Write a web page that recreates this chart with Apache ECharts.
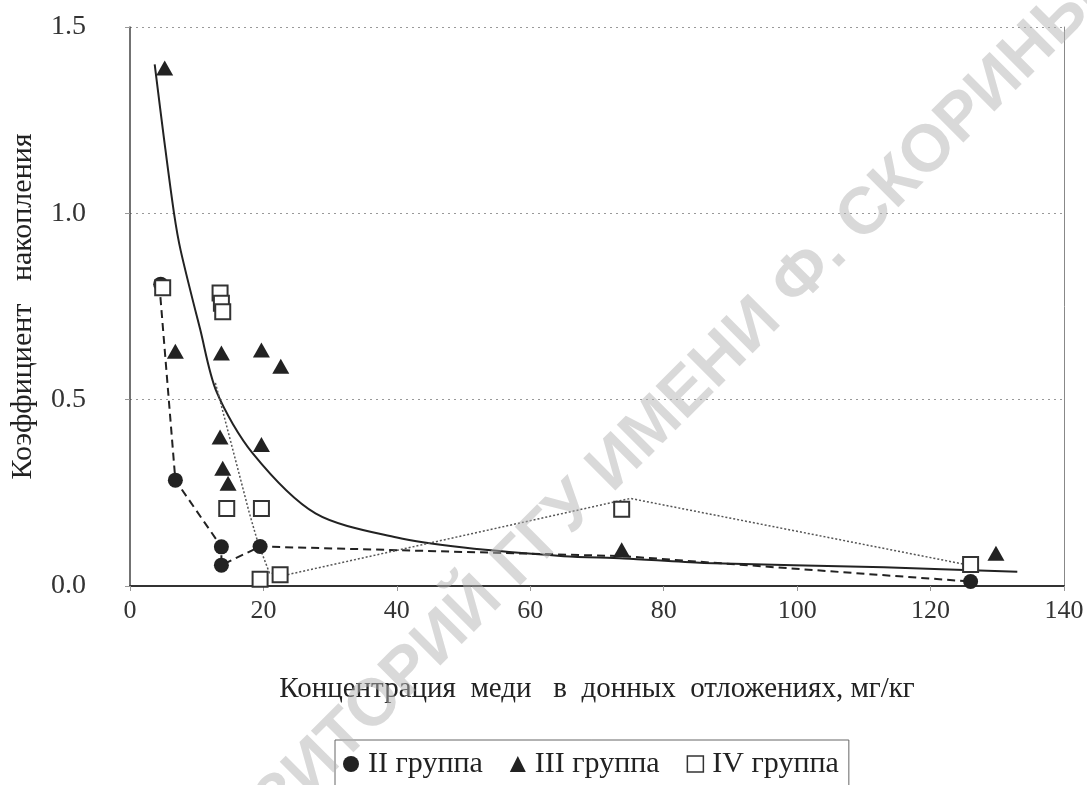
<!DOCTYPE html>
<html>
<head>
<meta charset="utf-8">
<script src="https://cdn.jsdelivr.net/npm/echarts@6/dist/echarts.min.js"></script>
<style>
html,body{margin:0;padding:0;background:#fff;}
#chart{width:1087px;height:785px;}
</style>
</head>
<body>
<div id="chart"></div>
<script>
// ---- data ----
var seriesNames = ['II группа', 'III группа', 'IV группа'];
var groupII = [[4.6,0.81],[6.8,0.284],[13.7,0.105],[13.7,0.056],[19.5,0.106],[126,0.012]];
var groupIII = [[5.2,1.39],[6.8,0.63],[13.7,0.625],[19.7,0.633],[22.6,0.59],[13.5,0.40],[19.7,0.38],[13.9,0.316],[14.7,0.276],[73.7,0.097],[129.8,0.088]];
var groupIV = [[4.9,0.80],[13.5,0.786],[13.7,0.759],[13.9,0.736],[14.5,0.208],[19.7,0.208],[19.5,0.018],[22.5,0.03],[73.7,0.206],[126,0.058]];
// connecting lines and trend as drawn in the picture
var groupIIPath = [[4.4,0.81],[6.8,0.284],[13.7,0.105],[13.7,0.056],[19.5,0.106],[74,0.08],[126,0.012]];
var groupIVPath = [[12.8,0.545],[17.9,0.195],[19.2,0.115],[20.9,0.035],[23.5,0.03],[75,0.235],[126,0.055]];
var trendIII = [[3.7,1.40],[5.1,1.2],[6.6,1.0],[7.6,0.9],[10.5,0.69],[13,0.52],[18.4,0.356],[27.8,0.195],[40,0.13],[50,0.103],[65,0.08],[74,0.074],[86,0.062],[113,0.05],[133,0.038]];
var xTicks = {min:0, max:140, interval:20};
var yTicks = {min:0, max:1.5, interval:0.5};
var xName = 'Концентрация  меди   в  донных  отложениях, мг/кг';
var yName = 'Коэффициент   накопления';
var watermark = 'РЕПОЗИТОРИЙ ГГУ ИМЕНИ Ф. СКОРИНЫ';

var serif = '"Liberation Serif", "Times New Roman", serif';
var chart = echarts.init(document.getElementById('chart'), null, {renderer:'canvas'});
var option = {
  backgroundColor:'#fff',
  animation:false,
  textStyle:{fontFamily:serif},
  grid:{left:119, right:23, top:27, bottom:199, containLabel:false},
  xAxis:{
    type:'value', min:xTicks.min, max:xTicks.max, interval:xTicks.interval,
    name:xName, nameLocation:'middle', nameGap:89,
    nameTextStyle:{fontFamily:serif, fontSize:29, color:'#222'},
    axisLine:{show:true, onZero:false, lineStyle:{color:'#333', width:2}},
    axisTick:{show:true, inside:false, length:5, lineStyle:{color:'#999'}},
    axisLabel:{fontFamily:serif, fontSize:26, color:'#333', margin:12},
    splitLine:{show:false}
  },
  yAxis:[{
    type:'value', min:yTicks.min, max:yTicks.max, interval:yTicks.interval,
    name:yName, nameLocation:'middle', nameGap:92, nameRotate:90,
    nameTextStyle:{fontFamily:serif, fontSize:30, color:'#222'},
    axisLine:{show:true, lineStyle:{color:'#444', width:1.5}},
    axisTick:{show:true, length:5, lineStyle:{color:'#999'}},
    axisLabel:{fontFamily:serif, fontSize:28, color:'#333', margin:44,
      formatter:function(v){return v.toFixed(1);}},
    splitLine:{show:true, lineStyle:{color:'#999', width:1, type:[2,4]}}
  },{
    type:'value', min:yTicks.min, max:yTicks.max, interval:yTicks.interval, position:'right',
    axisLine:{show:true, lineStyle:{color:'#888', width:1}},
    axisTick:{show:false}, axisLabel:{show:false}, splitLine:{show:false}
  }],
  legend:{
    left:335, top:740,
    data:[
      {name:seriesNames[0], icon:'circle'},
      {name:seriesNames[1], icon:'triangle'},
      {name:seriesNames[2], icon:'rect', itemStyle:{color:'#fff', borderColor:'#333', borderWidth:1.5}}
    ],
    itemWidth:16, itemHeight:16, itemGap:27,
    padding:[9,10,24,8],
    borderColor:'#666', borderWidth:1,
    textStyle:{fontFamily:serif, fontSize:30, color:'#222', padding:[0,0,0,4]}
  },
  graphic:[{
    type:'text', x:613, y:467, rotation:Math.PI/4, z:100, silent:true,
    style:{text:watermark, fontFamily:'"Liberation Sans", Arial, sans-serif', fontSize:66, fontWeight:'bold',
      fill:'rgba(180,180,180,0.5)', align:'center', verticalAlign:'middle'}
  }],
  series:[
    {type:'line', name:'trend', data:trendIII, smooth:0.3, symbol:'none', z:2,
     lineStyle:{color:'#222', width:2}},
    {type:'line', name:'pathII', data:groupIIPath, symbol:'none', z:2,
     lineStyle:{color:'#222', width:2, type:[8,5]}},
    {type:'line', name:'pathIV', data:groupIVPath, symbol:'none', z:2,
     lineStyle:{color:'#555', width:1.5, type:[2,2]}},
    {type:'scatter', name:seriesNames[0], data:groupII, symbol:'circle', symbolSize:15, z:3,
     itemStyle:{color:'#222', opacity:1}},
    {type:'scatter', name:seriesNames[1], data:groupIII, symbol:'triangle', symbolSize:[17,15], z:4,
     itemStyle:{color:'#222', opacity:1}},
    {type:'scatter', name:seriesNames[2], data:groupIV, symbol:'rect', symbolSize:15, z:5,
     itemStyle:{color:'#fff', borderColor:'#333', borderWidth:2, opacity:1}}
  ]
};
chart.setOption(option);
</script>
</body>
</html>
